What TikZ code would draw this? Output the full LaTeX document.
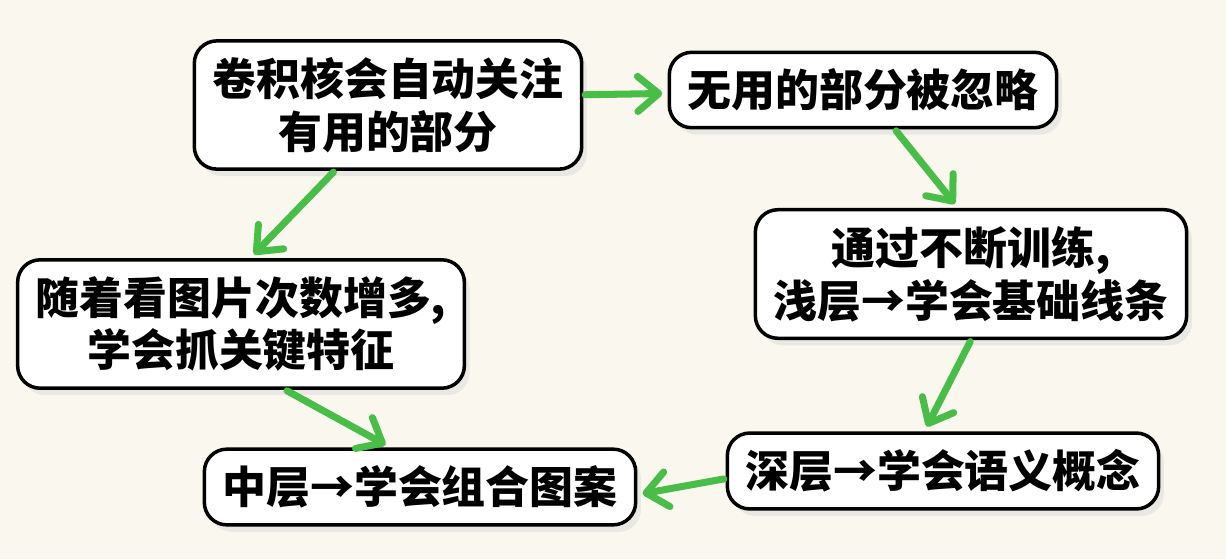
\documentclass[tikz,border=0pt]{standalone}
\usepackage{fontspec}
\newfontfamily\cjk{Noto Sans CJK SC}
\usepackage{tikz}
\usetikzlibrary{arrows.meta,shadows}
\definecolor{paperBg}{RGB}{250,248,238}
\definecolor{flowGreen}{RGB}{72,190,72}

\begin{document}
\begin{tikzpicture}[x=0.02cm,y=-0.02cm,
  st/.style={rectangle,draw=black,fill=white,line width=2pt,rounded corners=0.45cm,
             align=center,font=\cjk\bfseries\fontsize{25}{30}\selectfont,
             inner xsep=0.36cm,inner ysep=0.33cm,minimum height=1.5cm,
             drop shadow={shadow xshift=3pt,shadow yshift=-4pt,fill=black!15}},
  arr/.style={-{Straight Barb[length=12pt,width=20pt,line cap=round,line join=round]},
              line width=4pt,line cap=round,draw=flowGreen,
              shorten <=1pt,shorten >=3pt}
]
  \fill[paperBg] (0,0) rectangle (1226,559);

  \node[st](focus)  at (388,105) {卷积核会自动关注\\有用的部分};
  \node[st](ignore) at (863,90)  {无用的部分被忽略};
  \node[st](shallow)at (971,274) {通过不断训练,\\浅层→学会基础线条};
  \node[st](keyft)  at (241,324) {随着看图片次数增多,\\学会抓关键特征};
  \node[st](deep)   at (943,471) {深层→学会语义概念};
  \node[st](middle) at (420,487) {中层→学会组合图案};

  \draw[arr](focus.3)--(ignore.181);
  \draw[arr](ignore.-51)--(shallow.101);
  \draw[arr](shallow.-90)--(deep.115);
  \draw[arr](deep.182)--(middle.-2);
  \draw[arr](focus.-129)--(keyft.82);
  \draw[arr](keyft.-56)--(middle.127);
\end{tikzpicture}
\end{document}
